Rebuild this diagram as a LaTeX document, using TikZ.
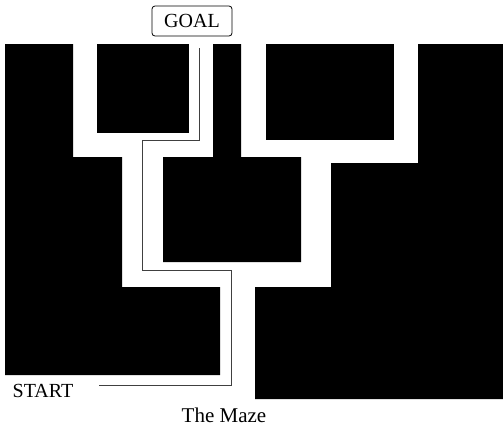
\documentclass[tikz,border=0pt]{standalone}
\usepackage{fontspec}
\setmainfont{Liberation Serif}
\usepackage{tikz}
\usetikzlibrary{positioning}
\tikzstyle{wall} = [fill=black]
\tikzstyle{route} = [draw=black!75, line width=0.9pt]

\begin{document}
\begin{tikzpicture}[
      x = 1pt, y = -1pt,
      every node/.style = {font=\fontsize{20}{24}\selectfont, inner sep=0pt}
    ]
      \useasboundingbox (0,0) rectangle (503,429);
      % walls of the maze
      \fill[wall] (5,44) -- (73,44) -- (73,157) -- (122,157) -- (122,287)
                  -- (220,287) -- (220,375) -- (5,375) -- cycle;
      \fill[wall] (97,44) rectangle (189,133);
      \fill[wall] (213,44) -- (241,44) -- (241,157) -- (301,157) -- (301,262)
                  -- (163,262) -- (163,157) -- (213,157) -- cycle;
      \fill[wall] (266,44) rectangle (394,140);
      \fill[wall] (418,44) -- (503,44) -- (503,399) -- (255,399) -- (255,287)
                  -- (331,287) -- (331,163) -- (418,163) -- cycle;
      % labels
      \node (goal)  [draw, line width=0.8pt, rounded corners=3pt,
                     minimum width=80pt, minimum height=30pt] at (192,21) {GOAL};
      \node (start) at (43,391) {START};
      \node (title) [font=\fontsize{21}{25}\selectfont] at (224,415) {The Maze};
      % the way through
      \coordinate (in)  at (99,385);
      \coordinate (out) at (199,48);
      \draw[route] (in) -| (231,270) -| (142,140) -| (out);
    \end{tikzpicture}
\end{document}
